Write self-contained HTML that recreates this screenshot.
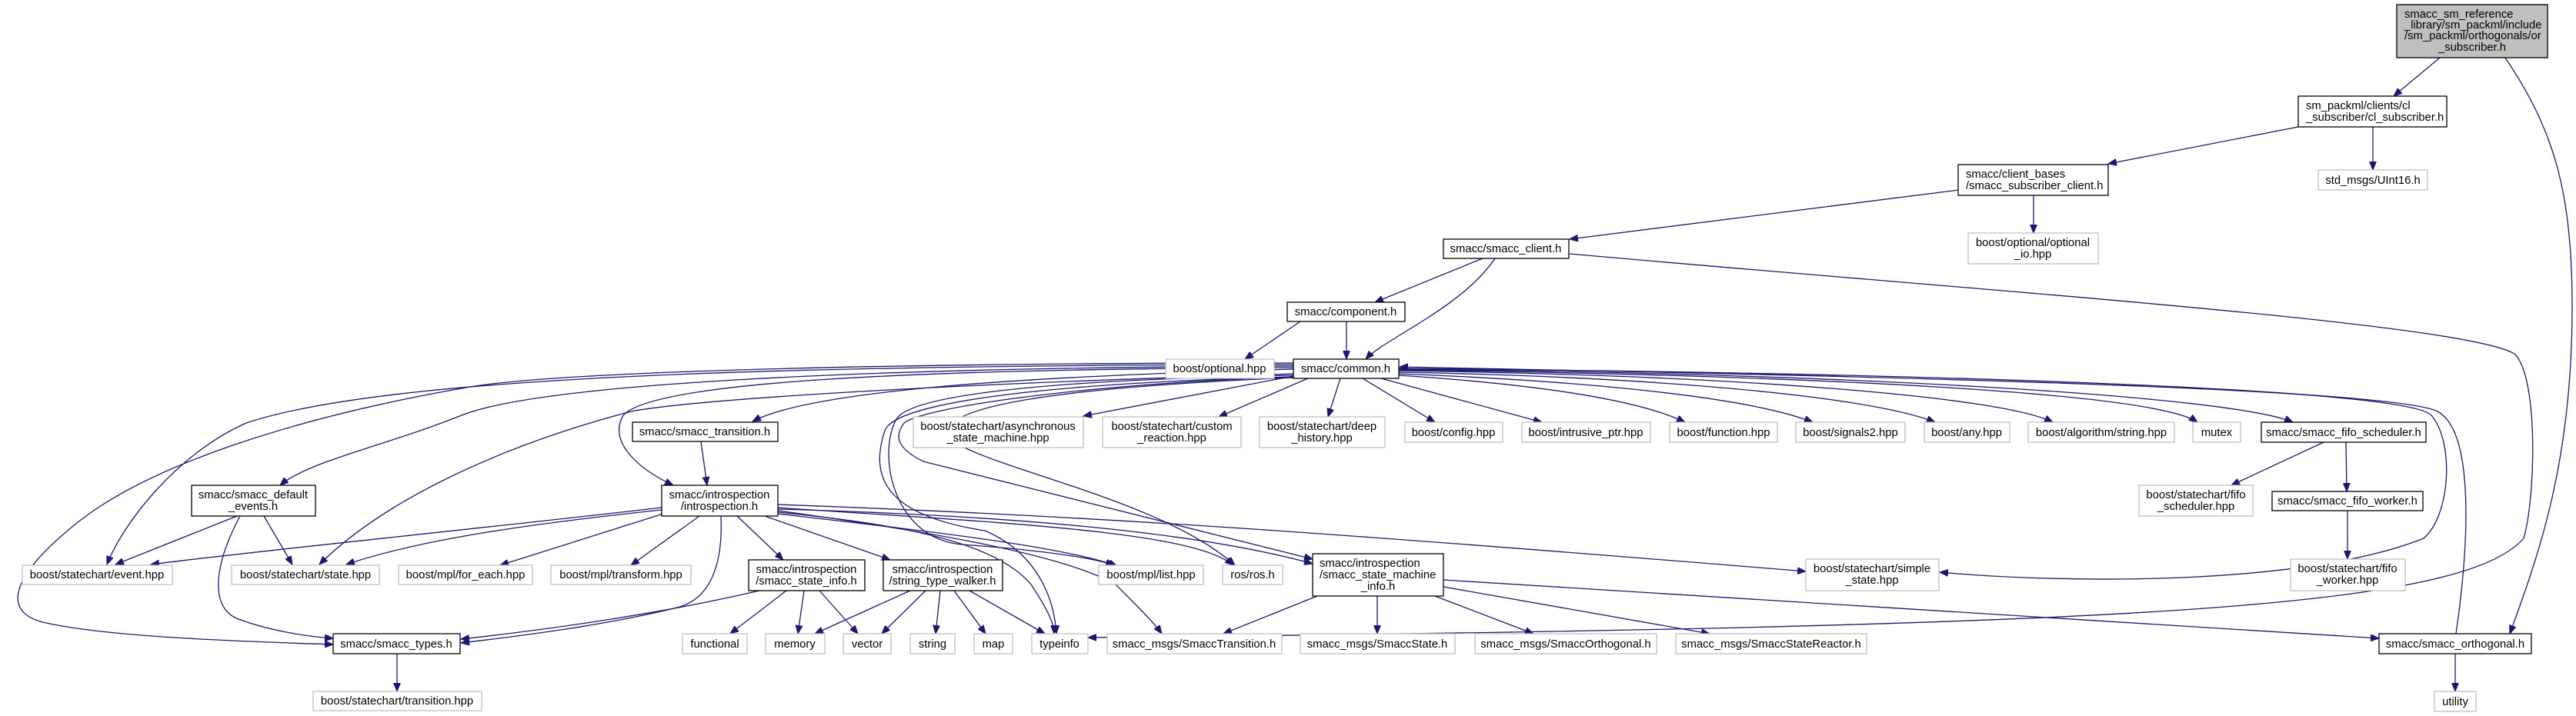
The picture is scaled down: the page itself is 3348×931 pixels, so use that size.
<!DOCTYPE html>
<html><head><meta charset="utf-8"><style>
html,body{margin:0;padding:0;background:#fff;}
svg{display:block;}
text{font-family:"Liberation Sans",Arial,sans-serif;font-size:14.8px;fill:#000;}
.d{fill:#fff;stroke:#000;stroke-width:1.3;}
.u{fill:#fff;stroke:#bfbfbf;stroke-width:1.3;}
.e{fill:none;stroke:#191970;stroke-width:1.3;}
</style></head><body>
<svg width="3348" height="931" viewBox="0 0 3348 931" xmlns="http://www.w3.org/2000/svg">
<defs><marker id="a" markerUnits="userSpaceOnUse" markerWidth="12" markerHeight="9" refX="11" refY="4.5" orient="auto"><path d="M0,0 L11,4.5 L0,9 z" fill="#191970" stroke="#191970"/></marker></defs>
<g class="edges" marker-end="url(#a)">
<path class="e" d="M3171,75 L3111,125"/>
<path class="e" d="M3256,75 C3320,170 3343,250 3343,400 C3343,600 3300,720 3262,824"/>
<path class="e" d="M2987,165 L2740,213"/>
<path class="e" d="M3084,165 L3084,221"/>
<path class="e" d="M2643,254 L2643,303"/>
<path class="e" d="M2546,247 L2040,311"/>
<path class="e" d="M1927,336 L1787,393"/>
<path class="e" d="M1943,336 C1900,400 1800,440 1775,467"/>
<path class="e" d="M2040,330 C2600,380 3200,420 3268,460 C3300,490 3295,650 3280,700 C3200,790 2800,815 1414,829"/>
<path class="e" d="M1690,418 L1618,467"/>
<path class="e" d="M1750,418 L1750,467"/>
<path class="e" d="M1681,489 L1408,541"/>
<path class="e" d="M1700,492 L1584,542"/>
<path class="e" d="M1742,492 L1726,542"/>
<path class="e" d="M1771,492 L1865,549"/>
<path class="e" d="M1795,492 L2004,549"/>
<path class="e" d="M1818,488 C2000,500 2130,520 2190,549"/>
<path class="e" d="M1818,486 C2050,495 2270,515 2356,549"/>
<path class="e" d="M1818,484 C2150,490 2430,515 2515,549"/>
<path class="e" d="M1818,482 C2250,488 2600,515 2668,549"/>
<path class="e" d="M1818,481 C2350,488 2800,510 2856,549"/>
<path class="e" d="M1818,480 C2400,485 2900,515 2980,549"/>
<path class="e" d="M1818,479 C2500,485 3130,505 3160,540 C3190,575 3185,670 3150,700 C3000,760 2700,760 2521,744"/>
<path class="e" d="M3192,824 C3210,700 3215,560 3168,535 C3100,500 2200,485 1819,477"/>
<path class="e" d="M1681,480 C1300,490 1050,510 978,548"/>
<path class="e" d="M1681,478 C1200,480 850,495 810,540 C790,575 830,610 875,631"/>
<path class="e" d="M1681,476 C1100,478 700,500 600,540 C500,580 400,600 364,631"/>
<path class="e" d="M1681,474 C1000,475 500,490 320,550 C230,590 160,680 139,734"/>
<path class="e" d="M1681,486 C1200,500 900,520 820,535 C650,580 500,650 415,734"/>
<path class="e" d="M1681,472 C1100,472 700,485 600,505 C400,540 200,600 100,680 C0,760 10,800 60,810 C150,830 350,835 433,838"/>
<path class="e" d="M1681,490 C1400,500 1200,530 1175,550 C1160,570 1170,585 1200,600 L1706,727"/>
<path class="e" d="M1681,488 C1300,495 1180,520 1165,545 C1140,590 1160,700 1250,708 C1350,715 1420,725 1448,735"/>
<path class="e" d="M1681,490 C1300,500 1160,530 1150,560 C1130,620 1150,670 1280,690 C1350,720 1370,780 1373,824"/>
<path class="e" d="M1681,491 C1350,505 1240,530 1230,560 C1230,600 1500,640 1605,735"/>
<path class="e" d="M911,574 L919,631"/>
<path class="e" d="M860,660 C600,690 300,720 196,734"/>
<path class="e" d="M860,663 C700,680 550,700 450,734"/>
<path class="e" d="M862,668 L650,735"/>
<path class="e" d="M909,671 L820,735"/>
<path class="e" d="M937,671 C940,740 920,780 880,790 C780,815 650,830 599,836"/>
<path class="e" d="M958,671 L1018,728"/>
<path class="e" d="M994,671 L1157,728"/>
<path class="e" d="M1011,668 C1200,690 1380,710 1452,736"/>
<path class="e" d="M1011,660 C1300,680 1550,690 1603,735"/>
<path class="e" d="M1011,656 C1400,670 1700,690 2347,743"/>
<path class="e" d="M1011,666 C1150,680 1290,700 1340,760 C1360,790 1370,810 1370,824"/>
<path class="e" d="M1011,664 C1200,690 1380,720 1450,760 C1480,790 1500,810 1510,824"/>
<path class="e" d="M1011,662 C1300,670 1550,690 1706,733"/>
<path class="e" d="M1712,775 L1590,824"/>
<path class="e" d="M1790,775 L1790,824"/>
<path class="e" d="M1865,775 L1993,824"/>
<path class="e" d="M1876,763 L2222,824"/>
<path class="e" d="M1876,754 L3092,830"/>
<path class="e" d="M987,768 C850,800 700,820 599,831"/>
<path class="e" d="M1022,768 L949,824"/>
<path class="e" d="M1045,768 L1037,824"/>
<path class="e" d="M1065,768 L1115,824"/>
<path class="e" d="M1183,768 L1059,824"/>
<path class="e" d="M1203,768 L1146,824"/>
<path class="e" d="M1222,768 L1216,824"/>
<path class="e" d="M1240,768 L1281,824"/>
<path class="e" d="M1260,768 L1358,824"/>
<path class="e" d="M308,671 L150,734"/>
<path class="e" d="M343,671 L380,734"/>
<path class="e" d="M312,671 C280,730 270,790 310,805 C350,820 400,828 433,830"/>
<path class="e" d="M516,850 L516,899"/>
<path class="e" d="M3020,575 L2900,631"/>
<path class="e" d="M3049,575 L3050,639"/>
<path class="e" d="M3051,664 L3051,727"/>
<path class="e" d="M3191,850 L3191,899"/>
</g>
<g>
<rect x="3115" y="6" width="196" height="69" fill="#bfbfbf" stroke="#000" stroke-width="1.3"/>
<text x="3125" y="23">smacc_sm_reference</text><text x="3125" y="37">_library/sm_packml/include</text><text x="3125" y="51">/sm_packml/orthogonals/or</text><text x="3213" y="66" text-anchor="middle">_subscriber.h</text>

<rect class="d" x="2987" y="125" width="193" height="40"/><text x="2997" y="142">sm_packml/clients/cl</text><text x="2997" y="157">_subscriber/cl_subscriber.h</text>
<rect class="u" x="3013" y="221" width="142" height="26"/><text x="3084" y="239" text-anchor="middle">std_msgs/UInt16.h</text>
<rect class="d" x="2545" y="214" width="195" height="40"/><text x="2555" y="231">smacc/client_bases</text><text x="2555" y="246">/smacc_subscriber_client.h</text>
<rect class="u" x="2558" y="303" width="169" height="40"/><text x="2642" y="320" text-anchor="middle">boost/optional/optional</text><text x="2642" y="335" text-anchor="middle">_io.hpp</text>
<rect class="d" x="1876" y="311" width="163" height="25"/><text x="1957" y="328" text-anchor="middle">smacc/smacc_client.h</text>
<rect class="d" x="1673" y="393" width="153" height="25"/><text x="1749" y="410" text-anchor="middle">smacc/component.h</text>
<rect class="u" x="1515" y="467" width="141" height="25"/><text x="1585" y="484" text-anchor="middle">boost/optional.hpp</text>
<rect class="d" x="1681" y="467" width="137" height="25"/><text x="1749" y="484" text-anchor="middle">smacc/common.h</text>

<rect class="d" x="822" y="549" width="189" height="25"/><text x="916" y="566" text-anchor="middle">smacc/smacc_transition.h</text>
<rect class="u" x="1187" y="542" width="221" height="40"/><text x="1297" y="559" text-anchor="middle">boost/statechart/asynchronous</text><text x="1297" y="574" text-anchor="middle">_state_machine.hpp</text>
<rect class="u" x="1433" y="542" width="180" height="40"/><text x="1523" y="559" text-anchor="middle">boost/statechart/custom</text><text x="1523" y="574" text-anchor="middle">_reaction.hpp</text>
<rect class="u" x="1637" y="542" width="163" height="40"/><text x="1718" y="559" text-anchor="middle">boost/statechart/deep</text><text x="1718" y="574" text-anchor="middle">_history.hpp</text>
<rect class="u" x="1826" y="549" width="127" height="26"/><text x="1889" y="567" text-anchor="middle">boost/config.hpp</text>
<rect class="u" x="1978" y="549" width="167" height="26"/><text x="2061" y="567" text-anchor="middle">boost/intrusive_ptr.hpp</text>
<rect class="u" x="2170" y="549" width="140" height="26"/><text x="2240" y="567" text-anchor="middle">boost/function.hpp</text>
<rect class="u" x="2334" y="549" width="142" height="26"/><text x="2405" y="567" text-anchor="middle">boost/signals2.hpp</text>
<rect class="u" x="2501" y="549" width="111" height="26"/><text x="2556" y="567" text-anchor="middle">boost/any.hpp</text>
<rect class="u" x="2636" y="549" width="190" height="26"/><text x="2731" y="567" text-anchor="middle">boost/algorithm/string.hpp</text>
<rect class="u" x="2850" y="549" width="62" height="26"/><text x="2881" y="567" text-anchor="middle">mutex</text>
<rect class="d" x="2939" y="549" width="214" height="26"/><text x="3046" y="567" text-anchor="middle">smacc/smacc_fifo_scheduler.h</text>
<rect class="u" x="2780" y="631" width="148" height="40"/><text x="2854" y="648" text-anchor="middle">boost/statechart/fifo</text><text x="2854" y="663" text-anchor="middle">_scheduler.hpp</text>
<rect class="d" x="2953" y="639" width="196" height="25"/><text x="3051" y="656" text-anchor="middle">smacc/smacc_fifo_worker.h</text>
<rect class="u" x="2977" y="727" width="149" height="41"/><text x="3051" y="744" text-anchor="middle">boost/statechart/fifo</text><text x="3051" y="759" text-anchor="middle">_worker.hpp</text>
<rect class="u" x="2347" y="727" width="173" height="41"/><text x="2433" y="744" text-anchor="middle">boost/statechart/simple</text><text x="2433" y="759" text-anchor="middle">_state.hpp</text>

<rect class="d" x="860" y="631" width="151" height="40"/><text x="935" y="648" text-anchor="middle">smacc/introspection</text><text x="935" y="663" text-anchor="middle">/introspection.h</text>
<rect class="d" x="249" y="631" width="161" height="40"/><text x="329" y="648" text-anchor="middle">smacc/smacc_default</text><text x="329" y="663" text-anchor="middle">_events.h</text>
<rect class="u" x="29" y="735" width="195" height="25"/><text x="126" y="752" text-anchor="middle">boost/statechart/event.hpp</text>
<rect class="u" x="301" y="735" width="192" height="25"/><text x="397" y="752" text-anchor="middle">boost/statechart/state.hpp</text>
<rect class="u" x="518" y="735" width="174" height="25"/><text x="605" y="752" text-anchor="middle">boost/mpl/for_each.hpp</text>
<rect class="u" x="716" y="735" width="182" height="25"/><text x="807" y="752" text-anchor="middle">boost/mpl/transform.hpp</text>
<rect class="d" x="973" y="728" width="151" height="40"/><text x="1048" y="745" text-anchor="middle">smacc/introspection</text><text x="1048" y="760" text-anchor="middle">/smacc_state_info.h</text>
<rect class="d" x="1148" y="728" width="155" height="40"/><text x="1225" y="745" text-anchor="middle">smacc/introspection</text><text x="1225" y="760" text-anchor="middle">/string_type_walker.h</text>
<rect class="u" x="1428" y="735" width="136" height="25"/><text x="1496" y="752" text-anchor="middle">boost/mpl/list.hpp</text>
<rect class="u" x="1589" y="735" width="78" height="25"/><text x="1628" y="752" text-anchor="middle">ros/ros.h</text>
<rect class="d" x="1706" y="720" width="170" height="55"/><text x="1715" y="737">smacc/introspection</text><text x="1715" y="752">/smacc_state_machine</text><text x="1791" y="767" text-anchor="middle">_info.h</text>

<rect class="d" x="433" y="824" width="165" height="26"/><text x="515" y="842" text-anchor="middle">smacc/smacc_types.h</text>
<rect class="u" x="407" y="899" width="219" height="25"/><text x="516" y="916" text-anchor="middle">boost/statechart/transition.hpp</text>
<rect class="u" x="887" y="824" width="84" height="26"/><text x="929" y="842" text-anchor="middle">functional</text>
<rect class="u" x="995" y="824" width="77" height="26"/><text x="1033" y="842" text-anchor="middle">memory</text>
<rect class="u" x="1096" y="824" width="62" height="26"/><text x="1127" y="842" text-anchor="middle">vector</text>
<rect class="u" x="1183" y="824" width="58" height="26"/><text x="1212" y="842" text-anchor="middle">string</text>
<rect class="u" x="1266" y="824" width="50" height="26"/><text x="1291" y="842" text-anchor="middle">map</text>
<rect class="u" x="1341" y="824" width="73" height="26"/><text x="1377" y="842" text-anchor="middle">typeinfo</text>
<rect class="u" x="1439" y="824" width="227" height="26"/><text x="1552" y="842" text-anchor="middle">smacc_msgs/SmaccTransition.h</text>
<rect class="u" x="1690" y="824" width="201" height="26"/><text x="1790" y="842" text-anchor="middle">smacc_msgs/SmaccState.h</text>
<rect class="u" x="1917" y="824" width="236" height="26"/><text x="2035" y="842" text-anchor="middle">smacc_msgs/SmaccOrthogonal.h</text>
<rect class="u" x="2178" y="824" width="248" height="26"/><text x="2302" y="842" text-anchor="middle">smacc_msgs/SmaccStateReactor.h</text>
<rect class="d" x="3092" y="824" width="198" height="26"/><text x="3191" y="842" text-anchor="middle">smacc/smacc_orthogonal.h</text>
<rect class="u" x="3164" y="899" width="54" height="26"/><text x="3191" y="917" text-anchor="middle">utility</text>
</g>
</svg>
</body></html>
